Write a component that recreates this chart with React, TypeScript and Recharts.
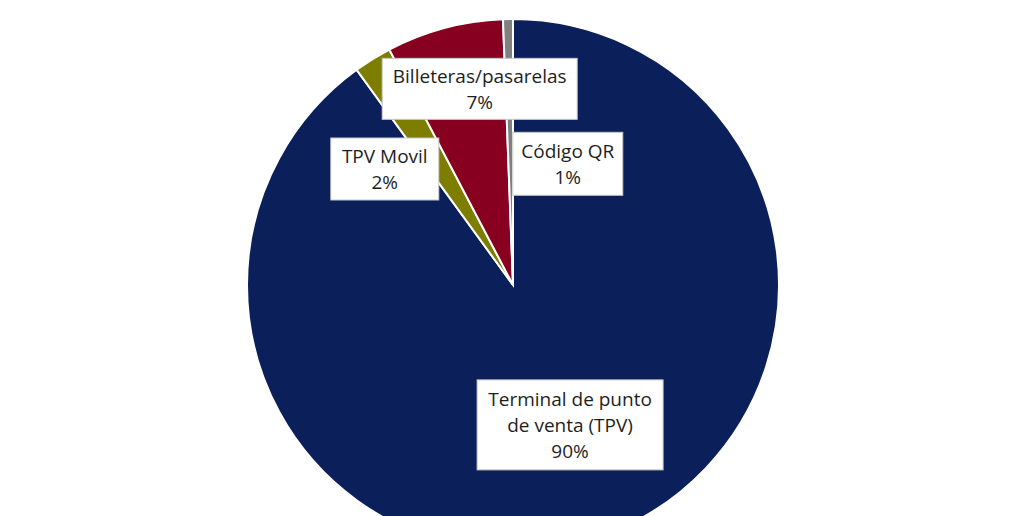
import React from 'react';
import { PieChart, Pie, Cell } from 'recharts';

const categories = ['Terminal de punto de venta (TPV)', 'TPV Movil', 'Billeteras/pasarelas', 'Código QR'];
const shares = [90.0, 2.3, 7.1, 0.6];
const percentLabels = ['90%', '2%', '7%', '1%'];
const nameLines = [['Terminal de punto', 'de venta (TPV)'], ['TPV Movil'], ['Billeteras/pasarelas'], ['Código QR']];

const colors = ['#0b1f5b', '#7d7d00', '#870020', '#808080'];

// where each label box sits, relative to its slice (angle shift in degrees, radius as fraction of outer)
const labelLayout = [
  { dAngle: 4.2, r: 0.568, w: 186, h: 90 },
  { dAngle: 16, r: 0.65, w: 108, h: 62 },
  { dAngle: -5.3, r: 0.748, w: 195, h: 61 },
  { dAngle: -25.4, r: 0.5, w: 110, h: 63 },
];

const data = categories.map((name, i) => ({ name, value: shares[i] }));

const RAD = Math.PI / 180;
const LINE = 26;

const renderLabel = (props: any) => {
  const { cx, cy, midAngle, outerRadius, index } = props;
  const lay = labelLayout[index];
  const a = (midAngle + lay.dAngle) * RAD;
  const x = cx + lay.r * outerRadius * Math.cos(a);
  const y = cy - lay.r * outerRadius * Math.sin(a);
  const lines = [...nameLines[index], percentLabels[index]];
  const top = y - ((lines.length - 1) * LINE) / 2;
  return (
    <g key={`lbl-${index}`}>
      <rect x={x - lay.w / 2} y={y - lay.h / 2} width={lay.w} height={lay.h} fill="#ffffff" stroke="#c8c8c8" strokeWidth={1} />
      {lines.map((t, j) => (
        <text
          key={j}
          x={x}
          y={top + j * LINE}
          textAnchor="middle"
          dominantBaseline="central"
          fill="#1e1e1e"
          fontSize={19}
          fontFamily="'Open Sans', sans-serif"
        >
          {t}
        </text>
      ))}
    </g>
  );
};

export default function App() {
  return (
    <div style={{ position: 'fixed', left: 0, top: 0, width: 1024, height: 516, background: '#ffffff' }}>
      <PieChart width={1024} height={516} margin={{ top: 0, right: 0, bottom: 0, left: 0 }}>
        <Pie
          data={data}
          dataKey="value"
          nameKey="name"
          cx={513}
          cy={285}
          outerRadius={266}
          startAngle={90}
          endAngle={-270}
          stroke="#ffffff"
          strokeWidth={2}
          label={renderLabel}
          labelLine={false}
          isAnimationActive={false}
        >
          {data.map((d, i) => (
            <Cell key={d.name} fill={colors[i]} />
          ))}
        </Pie>
      </PieChart>
    </div>
  );
}
